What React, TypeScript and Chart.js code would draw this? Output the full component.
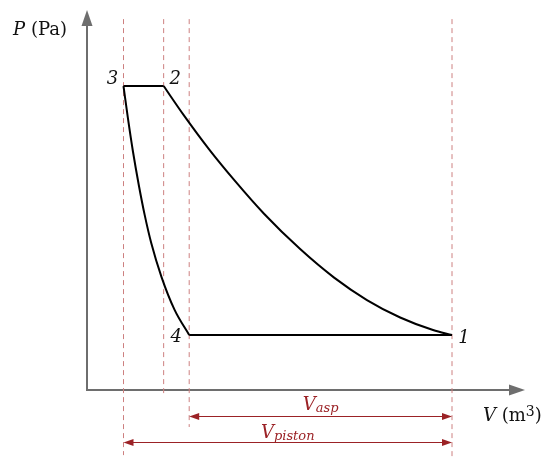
import { useEffect, useRef } from 'react';
import { Chart, registerables } from 'chart.js';

Chart.register(...registerables);

// State points of the compressor cycle (V in arbitrary units, P in arbitrary units)
const stateLabels = ['1', '2', '3', '4'];
const stateV = [10.0, 2.1, 1.0, 2.8];
const stateP = [1.45, 8.0, 8.0, 1.45];

// Compression curve 2 -> 1
const compressionV = [2.1, 2.66, 3.34, 4.03, 4.85, 5.84, 6.77, 7.67, 8.58, 9.48, 10.0];
const compressionP = [8.0, 7.22, 6.34, 5.53, 4.64, 3.71, 2.96, 2.37, 1.91, 1.58, 1.45];

// Re-expansion curve 3 -> 4
const expansionV = [1.0, 1.12, 1.26, 1.42, 1.58, 1.76, 2.04, 2.4, 2.8];
const expansionP = [8.0, 7.16, 6.27, 5.39, 4.61, 3.87, 2.98, 2.11, 1.45];

// Dashed guide lines
const guideV = [1.0, 2.1, 2.8, 10.0];
const guideTop = [9.76, 9.76, 9.76, 9.76];
const guideBottom = [-1.71, -0.18, -0.97, -1.74];

// Dimension arrows
const dimLabels = ['asp', 'piston'];
const dimStartV = [2.8, 1.0];
const dimEndV = [10.0, 10.0];
const dimP = [-0.68, -1.37];

// Axis extents
const axisMaxV = 12;
const axisMaxP = 10;
const axisLabelY = ['P', ' (Pa)'];
const axisLabelX = ['V', ' (m', '3', ')'];

const SERIF = '"DejaVu Serif", "Liberation Serif", serif';
const DIM_COLOR = '#9b2226';
const GUIDE_COLOR = '#cd8080';
const AXIS_COLOR = '#6e6e6e';

type Run = { text: string; font: string; dy?: number };

function drawRuns(ctx: CanvasRenderingContext2D, runs: Run[], x: number, y: number, align: 'left' | 'center' | 'right') {
  let total = 0;
  runs.forEach((r) => {
    ctx.font = r.font;
    total += ctx.measureText(r.text).width;
  });
  let cx = align === 'left' ? x : align === 'center' ? x - total / 2 : x - total;
  ctx.textAlign = 'left';
  runs.forEach((r) => {
    ctx.font = r.font;
    ctx.fillText(r.text, cx, y + (r.dy || 0));
    cx += ctx.measureText(r.text).width;
  });
}

function arrowHead(ctx: CanvasRenderingContext2D, tipX: number, tipY: number, dirX: number, dirY: number, len: number, half: number) {
  const bx = tipX - dirX * len;
  const by = tipY - dirY * len;
  const px = -dirY;
  const py = dirX;
  ctx.beginPath();
  ctx.moveTo(tipX, tipY);
  ctx.lineTo(bx + px * half, by + py * half);
  ctx.lineTo(bx - px * half, by - py * half);
  ctx.closePath();
  ctx.fill();
}

const overlay = {
  id: 'overlay',
  beforeDatasetsDraw(chart: any) {
    const { ctx, scales } = chart;
    const xs = scales.x;
    const ys = scales.y;
    const x0 = xs.getPixelForValue(0);
    const y0 = ys.getPixelForValue(0);
    const xEnd = xs.getPixelForValue(axisMaxV);
    const yEnd = ys.getPixelForValue(axisMaxP);
    ctx.save();
    ctx.strokeStyle = AXIS_COLOR;
    ctx.fillStyle = AXIS_COLOR;
    ctx.lineWidth = 2;
    ctx.beginPath();
    ctx.moveTo(x0, yEnd + 14);
    ctx.lineTo(x0, y0);
    ctx.lineTo(xEnd - 14, y0);
    ctx.stroke();
    arrowHead(ctx, x0, yEnd, 0, -1, 16, 5.5);
    arrowHead(ctx, xEnd, y0, 1, 0, 16, 5.5);
    ctx.restore();
  },
  afterDatasetsDraw(chart: any) {
    const { ctx, scales } = chart;
    const xs = scales.x;
    const ys = scales.y;
    ctx.save();
    ctx.textBaseline = 'alphabetic';

    // Axis labels
    ctx.fillStyle = '#111';
    const x0 = xs.getPixelForValue(0);
    const y0 = ys.getPixelForValue(0);
    drawRuns(
      ctx,
      [
        { text: axisLabelY[0], font: `italic 18px ${SERIF}` },
        { text: axisLabelY[1], font: `18px ${SERIF}` },
      ],
      x0 - 20,
      35,
      'right'
    );
    drawRuns(
      ctx,
      [
        { text: axisLabelX[0], font: `italic 18px ${SERIF}` },
        { text: axisLabelX[1], font: `18px ${SERIF}` },
        { text: axisLabelX[2], font: `14px ${SERIF}`, dy: -5 },
        { text: axisLabelX[3], font: `18px ${SERIF}` },
      ],
      483,
      y0 + 31,
      'left'
    );

    // State labels
    const offs = [
      [12, 3],
      [11.5, -7],
      [-11, -7],
      [-13, 2],
    ];
    ctx.font = `italic 18px ${SERIF}`;
    ctx.textAlign = 'center';
    ctx.textBaseline = 'middle';
    stateLabels.forEach((lab, i) => {
      const px = xs.getPixelForValue(stateV[i]) + offs[i][0];
      const py = ys.getPixelForValue(stateP[i]) + offs[i][1];
      ctx.fillText(lab, px, py);
    });

    // Dimension arrows
    ctx.textBaseline = 'alphabetic';
    ctx.strokeStyle = DIM_COLOR;
    ctx.fillStyle = DIM_COLOR;
    ctx.lineWidth = 1;
    const labelGap = [7, 5];
    dimLabels.forEach((lab, i) => {
      const xa = xs.getPixelForValue(dimStartV[i]);
      const xb = xs.getPixelForValue(dimEndV[i]);
      const y = Math.round(ys.getPixelForValue(dimP[i])) + 0.5;
      ctx.beginPath();
      ctx.moveTo(xa + 4, y);
      ctx.lineTo(xb - 4, y);
      ctx.stroke();
      arrowHead(ctx, xa, y, -1, 0, 10, 3.5);
      arrowHead(ctx, xb, y, 1, 0, 10, 3.5);
      drawRuns(
        ctx,
        [
          { text: 'V', font: `italic 18px ${SERIF}` },
          { text: lab, font: `italic 13px ${SERIF}`, dy: 2 },
        ],
        (xa + xb) / 2,
        y - labelGap[i],
        'center'
      );
    });
    ctx.restore();
  },
};

export default function App() {
  const ref = useRef<HTMLCanvasElement | null>(null);

  useEffect(() => {
    if (!ref.current) return;
    const curveStyle = {
      showLine: true,
      borderColor: '#000',
      borderWidth: 2,
      pointRadius: 0,
      fill: false,
    };
    const datasets: any[] = [
      {
        ...curveStyle,
        data: compressionV.map((v, i) => ({ x: v, y: compressionP[i] })),
        cubicInterpolationMode: 'monotone',
        tension: 0.4,
      },
      {
        ...curveStyle,
        data: expansionV.map((v, i) => ({ x: v, y: expansionP[i] })),
        cubicInterpolationMode: 'monotone',
        tension: 0.4,
      },
      {
        ...curveStyle,
        data: [
          { x: stateV[2], y: stateP[2] },
          { x: stateV[1], y: stateP[1] },
        ],
      },
      {
        ...curveStyle,
        data: [
          { x: stateV[3], y: stateP[3] },
          { x: stateV[0], y: stateP[0] },
        ],
      },
      ...guideV.map((v, i) => ({
        showLine: true,
        borderColor: GUIDE_COLOR,
        borderWidth: 1,
        borderDash: [5, 4],
        pointRadius: 0,
        fill: false,
        data: [
          { x: v, y: guideTop[i] },
          { x: v, y: guideBottom[i] },
        ],
      })),
    ];

    const chart = new Chart(ref.current, {
      type: 'scatter',
      data: { datasets },
      options: {
        animation: false,
        responsive: false,
        layout: { padding: { left: 87, right: 25, top: 10, bottom: 0 } },
        scales: {
          x: { type: 'linear', min: 0, max: axisMaxV, display: false },
          y: { type: 'linear', min: -1.97, max: axisMaxP, display: false },
        },
        plugins: {
          legend: { display: false },
          tooltip: { enabled: false },
        },
      },
      plugins: [overlay],
    });
    return () => chart.destroy();
  }, []);

  return (
    <div style={{ position: 'fixed', left: 0, top: 0, width: 550, height: 465, background: '#fff' }}>
      <canvas ref={ref} width={550} height={465} style={{ display: 'block' }} />
    </div>
  );
}
